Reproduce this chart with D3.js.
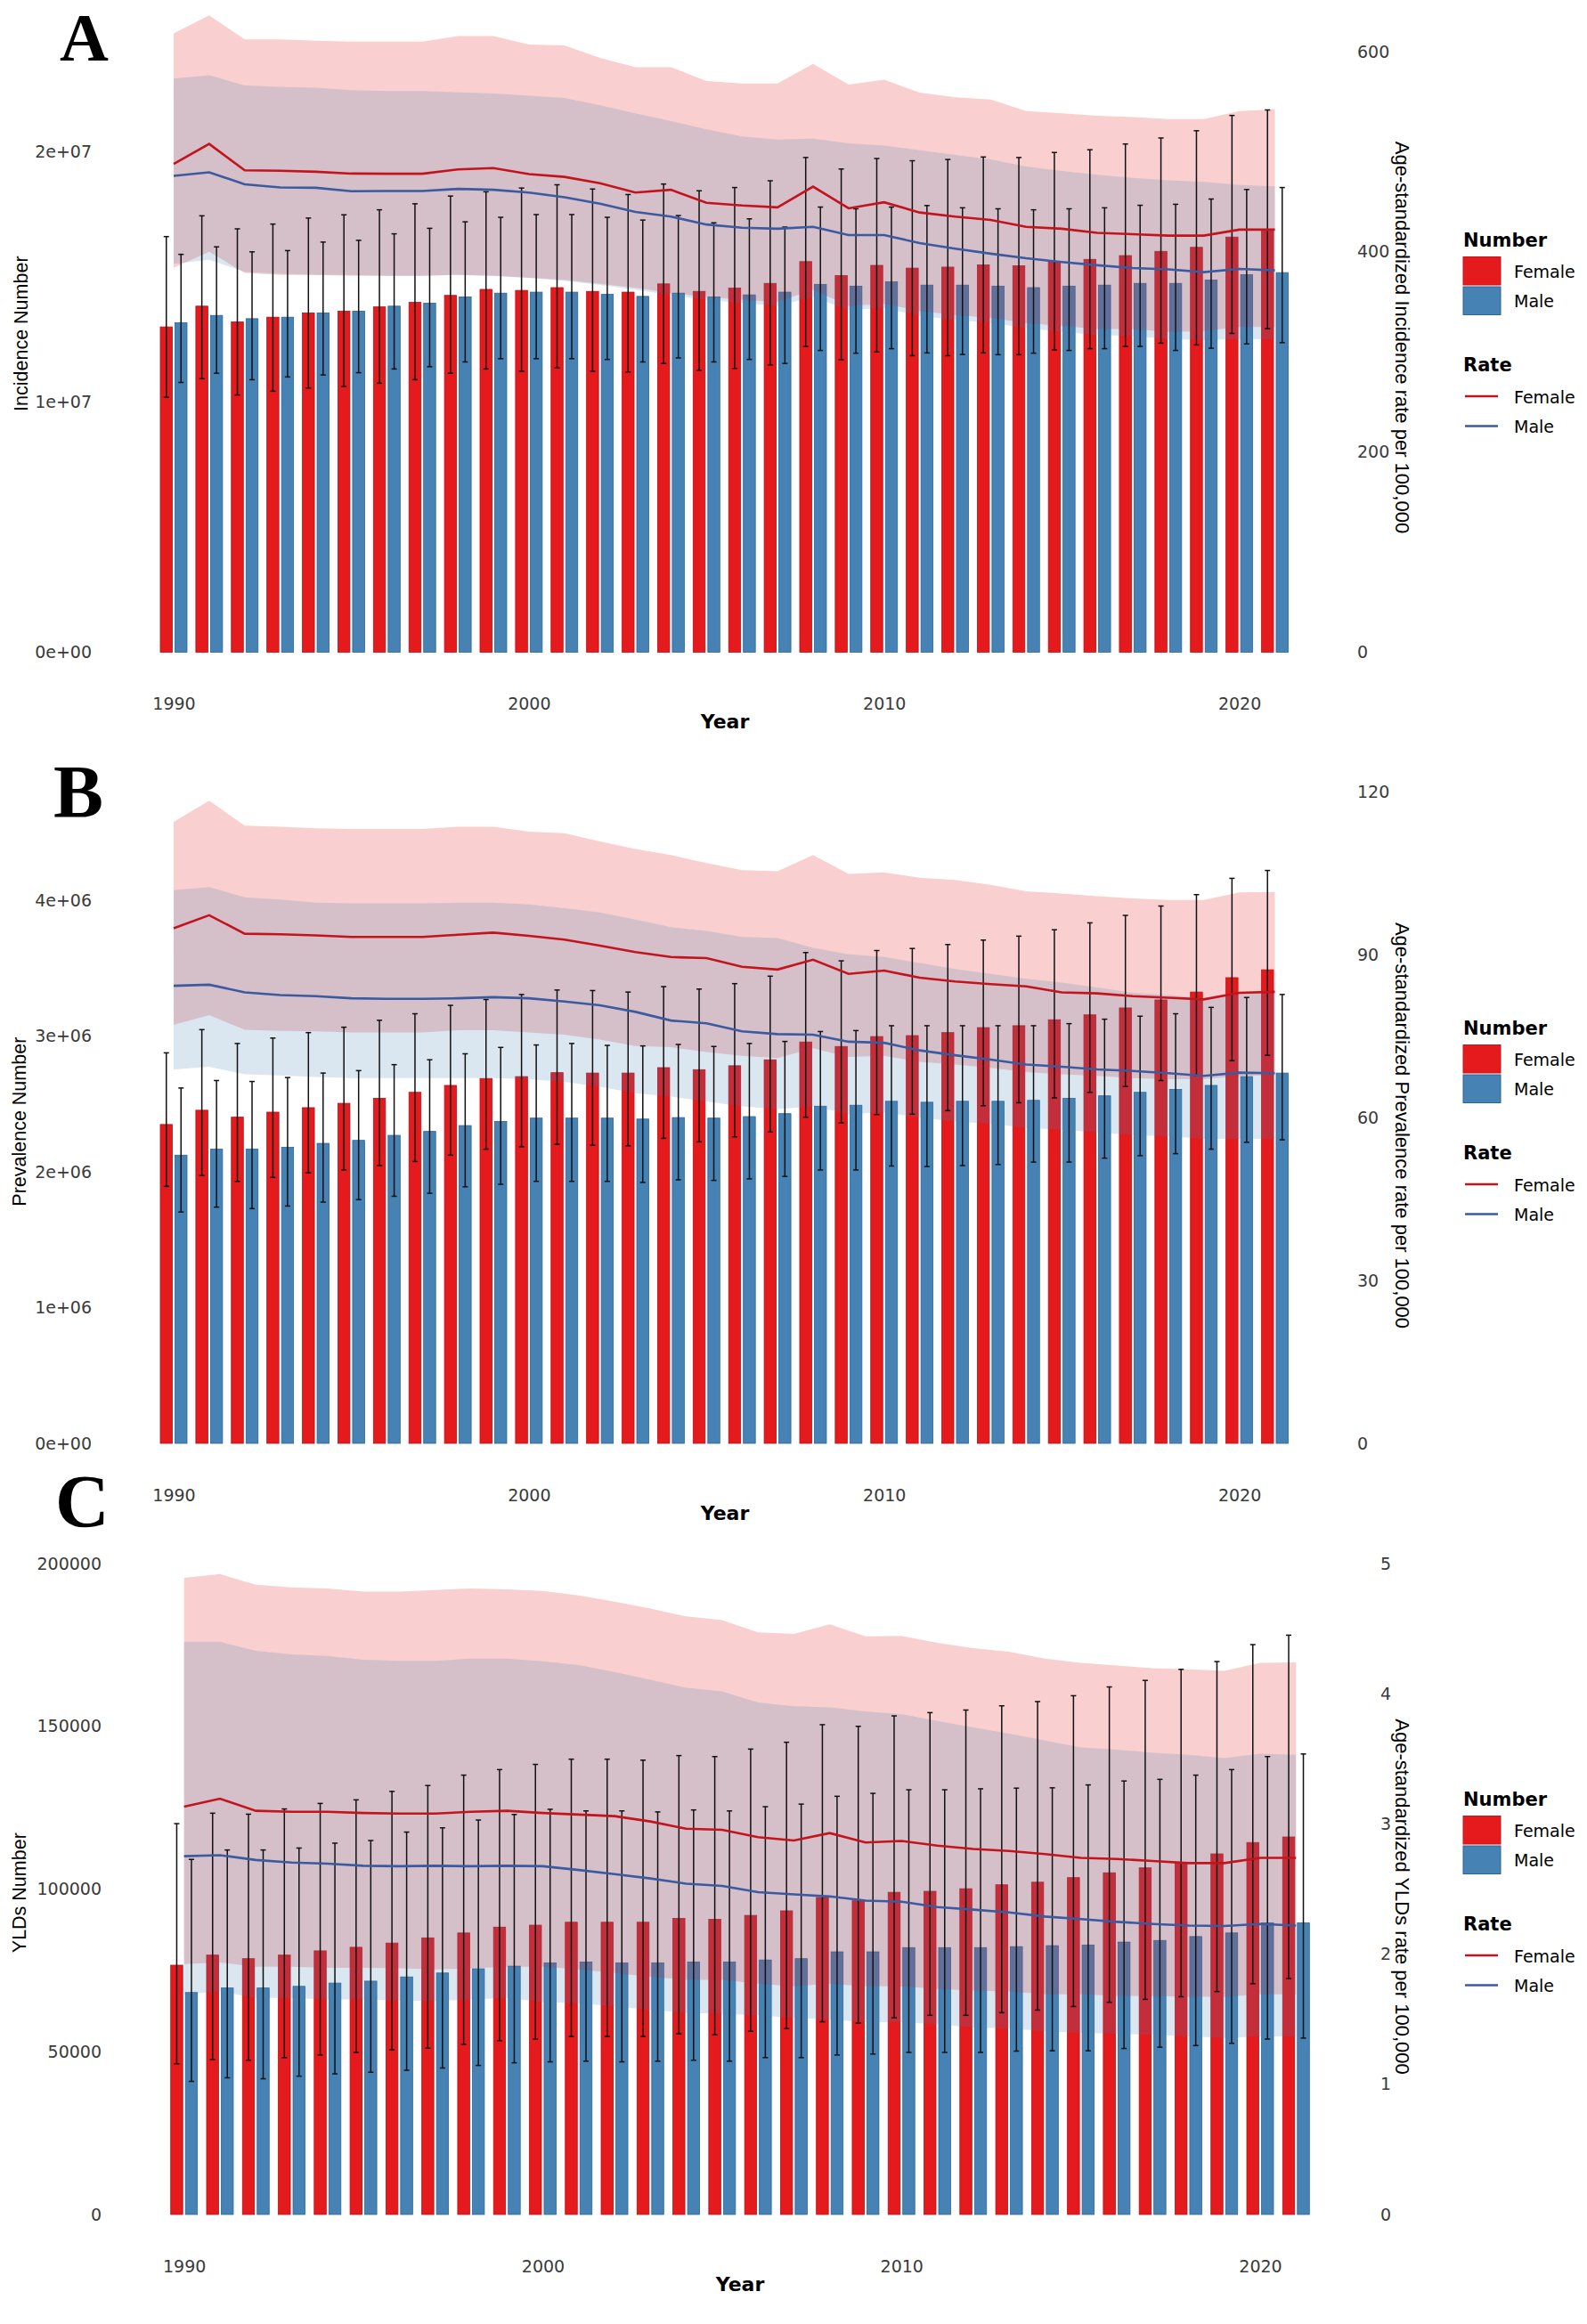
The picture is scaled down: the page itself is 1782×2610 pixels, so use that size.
<!DOCTYPE html>
<html lang="en">
<head>
    <meta charset="utf-8">
    <title>burden_by_sex</title>
    <script type="text/javascript" src="https://d3js.org/d3.v7.min.js"></script>
    <style type="text/css">
        body { margin: 0; background: #fff; }
        .tick text { font-family: "DejaVu Sans", sans-serif; font-size: 19px; fill: #3a3a3a; }
    </style>
</head>
<body>

<script type="text/javascript">

    // Years on the x axis
    var years = [1990, 1991, 1992, 1993, 1994, 1995, 1996, 1997, 1998, 1999,
                 2000, 2001, 2002, 2003, 2004, 2005, 2006, 2007, 2008, 2009,
                 2010, 2011, 2012, 2013, 2014, 2015, 2016, 2017, 2018, 2019,
                 2020, 2021];

    // ---- Panel A: incidence (numbers in millions, rate per 100,000)
    var incFemaleNum = [13.00, 13.83, 13.20, 13.39, 13.56, 13.63, 13.80, 13.98, 14.26, 14.50, 14.46, 14.57, 14.42, 14.39, 14.72, 14.42, 14.55, 14.74, 15.61, 15.05, 15.46, 15.35, 15.39, 15.48, 15.44, 15.61, 15.70, 15.85, 16.02, 16.18, 16.59, 16.87];
    var incMaleNum   = [13.17, 13.46, 13.33, 13.39, 13.56, 13.63, 13.83, 13.95, 14.20, 14.35, 14.39, 14.39, 14.30, 14.22, 14.35, 14.20, 14.28, 14.39, 14.70, 14.63, 14.80, 14.67, 14.67, 14.63, 14.57, 14.63, 14.67, 14.74, 14.74, 14.87, 15.09, 15.17];
    var incFemaleLo  = [10.19, 10.93, 10.28, 10.43, 10.56, 10.62, 10.75, 10.89, 11.15, 11.32, 11.23, 11.36, 11.23, 11.20, 11.54, 11.27, 11.34, 11.48, 12.22, 11.69, 12.00, 11.85, 11.85, 11.96, 11.89, 12.08, 12.13, 12.22, 12.35, 12.28, 12.74, 12.93];
    var incFemaleHi  = [16.61, 17.44, 16.92, 17.11, 17.35, 17.48, 17.68, 17.92, 18.23, 18.40, 18.55, 18.68, 18.51, 18.29, 18.71, 18.44, 18.57, 18.84, 19.77, 19.31, 19.73, 19.64, 19.69, 19.79, 19.77, 19.97, 20.08, 20.31, 20.55, 20.84, 21.45, 21.67];
    var incMaleLo    = [10.78, 11.15, 10.89, 11.00, 11.08, 11.17, 11.32, 11.41, 11.60, 11.73, 11.73, 11.73, 11.70, 11.60, 11.76, 11.60, 11.70, 11.54, 12.06, 11.95, 12.13, 11.96, 11.90, 11.89, 11.95, 12.06, 12.13, 12.22, 12.06, 12.15, 12.32, 12.37];
    var incMaleHi    = [15.90, 16.20, 16.00, 16.05, 16.39, 16.46, 16.72, 16.94, 17.20, 17.38, 17.49, 17.49, 17.38, 17.27, 17.45, 17.16, 17.32, 16.99, 17.79, 17.72, 17.79, 17.85, 17.76, 17.72, 17.68, 17.72, 17.76, 17.86, 17.90, 18.11, 18.49, 18.57];
    var incFemaleRate   = [487.9, 507.8, 481.4, 481.0, 480.0, 478.2, 478.0, 478.0, 482.3, 483.7, 477.7, 474.9, 468.5, 459.2, 462.0, 449.0, 446.3, 444.4, 465.2, 443.5, 449.5, 439.3, 435.2, 431.9, 425.0, 423.1, 419.0, 417.6, 416.2, 416.2, 422.2, 422.2];
    var incMaleRate     = [475.9, 479.5, 467.5, 464.3, 464.0, 460.6, 460.8, 460.8, 462.9, 462.0, 459.2, 454.6, 448.1, 439.8, 435.2, 427.3, 424.1, 423.1, 425.0, 416.7, 416.7, 408.8, 403.2, 398.2, 393.6, 389.9, 386.6, 383.8, 382.5, 379.7, 383.0, 381.5];
    var incFemaleRateLo = [384, 400, 379, 377, 377, 376, 376, 376, 377, 376, 374, 372, 368, 364, 359, 355, 352, 350, 362, 346, 348, 341, 337, 334, 329, 326, 323, 323, 320, 321, 325, 325];
    var incFemaleRateHi = [618.2, 636.2, 612.2, 612.2, 611.0, 610.0, 609.9, 609.9, 615.5, 615.5, 607.2, 606.2, 593.7, 584.5, 584.5, 570.6, 568.3, 568.3, 587.7, 567.0, 572.0, 559.0, 554.4, 552.1, 540.6, 538.3, 536.0, 534.6, 532.7, 532.7, 540.6, 542.4];
    var incMaleRateLo   = [388, 392, 380, 378, 377, 377, 376, 376, 377, 376, 374, 371, 367, 362, 357, 352, 349, 346, 355, 342, 344, 336, 332, 329, 324, 320, 317, 316, 313, 312, 313, 313];
    var incMaleRateHi   = [573.1, 576.4, 566.2, 564.8, 563.9, 561.6, 560.7, 560.7, 559.3, 558.3, 556.0, 553.7, 546.3, 538.5, 530.6, 522.3, 515.3, 512.1, 513.0, 508.4, 506.1, 501.5, 496.9, 492.3, 485.3, 480.7, 477.0, 473.8, 471.4, 470.0, 466.8, 465.4];

    // ---- Panel B: prevalence (numbers in millions, rate per 100,000)
    var prevFemaleNum = [2.350, 2.455, 2.404, 2.441, 2.474, 2.506, 2.543, 2.587, 2.638, 2.689, 2.703, 2.732, 2.729, 2.729, 2.769, 2.754, 2.783, 2.827, 2.958, 2.925, 2.998, 3.005, 3.027, 3.064, 3.078, 3.122, 3.158, 3.209, 3.268, 3.326, 3.432, 3.490];
    var prevMaleNum   = [2.124, 2.168, 2.168, 2.182, 2.211, 2.233, 2.270, 2.299, 2.342, 2.372, 2.397, 2.397, 2.397, 2.390, 2.401, 2.397, 2.408, 2.430, 2.485, 2.492, 2.521, 2.514, 2.521, 2.521, 2.528, 2.543, 2.561, 2.587, 2.608, 2.638, 2.703, 2.729];
    var prevFemaleLo  = [1.894, 1.974, 1.931, 1.960, 1.993, 2.015, 2.047, 2.077, 2.124, 2.168, 2.186, 2.204, 2.197, 2.193, 2.248, 2.222, 2.259, 2.295, 2.404, 2.361, 2.423, 2.426, 2.452, 2.488, 2.510, 2.546, 2.587, 2.630, 2.674, 2.710, 2.820, 2.860];
    var prevFemaleHi  = [2.878, 3.049, 2.947, 2.987, 3.027, 3.067, 3.118, 3.166, 3.228, 3.271, 3.308, 3.341, 3.337, 3.326, 3.366, 3.348, 3.388, 3.443, 3.617, 3.556, 3.632, 3.647, 3.676, 3.709, 3.738, 3.785, 3.836, 3.891, 3.960, 4.044, 4.164, 4.222];
    var prevMaleLo    = [1.705, 1.741, 1.730, 1.749, 1.778, 1.796, 1.821, 1.843, 1.891, 1.909, 1.931, 1.931, 1.931, 1.923, 1.942, 1.938, 1.949, 1.967, 2.015, 2.015, 2.044, 2.040, 2.047, 2.055, 2.073, 2.073, 2.102, 2.120, 2.135, 2.168, 2.219, 2.237];
    var prevMaleHi    = [2.619, 2.674, 2.667, 2.696, 2.729, 2.747, 2.791, 2.827, 2.871, 2.918, 2.936, 2.947, 2.933, 2.929, 2.940, 2.925, 2.947, 2.962, 3.035, 3.042, 3.078, 3.078, 3.078, 3.078, 3.078, 3.093, 3.126, 3.148, 3.166, 3.213, 3.286, 3.308];
    var prevFemaleRate   = [94.9, 97.3, 93.9, 93.8, 93.6, 93.3, 93.3, 93.3, 93.7, 94.1, 93.5, 92.8, 91.7, 90.5, 89.6, 89.4, 87.8, 87.3, 89.1, 86.5, 87.1, 85.8, 85.1, 84.6, 84.2, 83.1, 82.9, 82.4, 82.1, 81.8, 83.0, 83.2];
    var prevMaleRate     = [84.3, 84.5, 83.1, 82.6, 82.4, 82.0, 81.9, 81.9, 82.0, 82.2, 82.0, 81.4, 80.7, 79.5, 77.9, 77.4, 75.9, 75.4, 75.3, 74.0, 73.8, 72.4, 71.5, 70.7, 69.8, 69.4, 68.9, 68.6, 68.2, 67.7, 68.3, 68.2];
    var prevFemaleRateLo = [77.1, 78.9, 76.2, 76.0, 75.9, 75.7, 75.7, 75.7, 76.1, 76.1, 75.7, 75.3, 74.4, 73.2, 73.0, 72.1, 71.4, 71.0, 72.8, 71.2, 71.4, 70.3, 69.8, 69.2, 68.4, 68.0, 67.7, 67.3, 67.1, 67.1, 67.7, 67.8];
    var prevFemaleRateHi = [114.5, 118.4, 113.8, 113.6, 113.3, 113.2, 113.2, 113.2, 113.6, 113.6, 112.7, 112.4, 110.9, 109.5, 108.4, 106.9, 105.6, 105.4, 108.4, 104.9, 105.2, 104.2, 103.8, 102.9, 101.7, 101.3, 100.8, 100.4, 100.1, 100.1, 101.5, 101.6];
    var prevMaleRateLo   = [68.9, 69.4, 68.0, 67.8, 67.5, 67.3, 67.3, 67.3, 67.3, 67.3, 67.1, 66.6, 65.7, 64.5, 63.9, 63.0, 62.1, 61.6, 62.1, 60.7, 61.0, 60.0, 59.3, 58.9, 58.1, 57.8, 57.3, 56.8, 56.6, 56.1, 56.1, 56.1];
    var prevMaleRateHi   = [101.9, 102.5, 100.6, 100.2, 99.6, 99.5, 99.5, 99.5, 99.6, 99.6, 99.3, 98.6, 97.8, 96.5, 95.1, 94.4, 93.3, 93.1, 91.3, 90.1, 89.6, 88.5, 87.4, 86.5, 85.6, 84.9, 84.0, 83.0, 82.6, 82.1, 83.0, 82.9];

    // ---- Panel C: YLDs (numbers in thousands, rate per 100,000)
    var yldFemaleNum = [76.6, 79.7, 78.6, 79.7, 81.0, 82.1, 83.4, 85.0, 86.5, 88.3, 88.9, 89.8, 89.8, 89.8, 91.0, 90.7, 91.9, 93.3, 97.4, 96.4, 99.0, 99.3, 100.1, 101.3, 102.1, 103.5, 105.0, 106.5, 107.9, 110.8, 114.3, 116.0];
    var yldMaleNum   = [68.2, 69.6, 69.6, 70.1, 71.1, 71.7, 73.0, 74.2, 75.5, 76.3, 77.3, 77.6, 77.3, 77.3, 77.6, 77.6, 78.2, 78.6, 80.7, 80.7, 82.0, 82.0, 82.0, 82.3, 82.6, 82.8, 83.7, 84.2, 85.4, 86.5, 89.6, 89.6];
    var yldFemaleLo  = [46.3, 47.6, 47.4, 48.2, 49.0, 49.8, 50.6, 51.1, 52.3, 53.4, 53.9, 54.7, 54.7, 54.7, 55.5, 55.2, 56.3, 57.1, 59.2, 58.8, 60.4, 61.2, 61.2, 62.0, 62.8, 63.9, 65.2, 66.1, 66.9, 68.5, 70.9, 72.5];
    var yldFemaleHi  = [120.1, 123.3, 123.0, 124.6, 126.3, 127.4, 130.0, 131.8, 135.0, 136.7, 138.3, 139.9, 139.9, 139.6, 141.0, 140.7, 143.0, 145.1, 150.5, 150.0, 153.2, 154.2, 155.0, 156.3, 157.6, 159.4, 162.1, 164.1, 167.5, 169.9, 175.1, 178.0];
    var yldMaleLo    = [40.9, 42.0, 41.7, 42.5, 43.2, 43.7, 44.3, 45.0, 45.8, 46.6, 46.9, 47.1, 46.9, 47.1, 47.4, 47.1, 48.2, 48.2, 49.0, 49.3, 49.8, 49.8, 49.8, 50.2, 50.3, 50.3, 51.0, 51.4, 51.9, 52.6, 53.9, 54.2];
    var yldMaleHi    = [109.1, 112.0, 112.0, 112.6, 114.1, 114.9, 117.5, 118.8, 121.2, 122.9, 124.5, 124.0, 124.0, 123.7, 124.3, 124.0, 125.3, 126.1, 128.5, 129.4, 130.5, 130.5, 130.8, 131.0, 131.1, 132.0, 133.2, 133.7, 135.0, 136.7, 140.7, 141.5];
    var yldFemaleRate   = [3.133, 3.194, 3.101, 3.093, 3.093, 3.084, 3.080, 3.080, 3.093, 3.101, 3.084, 3.072, 3.060, 3.019, 2.963, 2.955, 2.898, 2.873, 2.930, 2.857, 2.869, 2.833, 2.808, 2.792, 2.768, 2.739, 2.731, 2.715, 2.699, 2.699, 2.739, 2.739];
    var yldMaleRate     = [2.752, 2.760, 2.723, 2.703, 2.695, 2.679, 2.675, 2.679, 2.675, 2.679, 2.675, 2.646, 2.614, 2.581, 2.541, 2.524, 2.476, 2.459, 2.443, 2.411, 2.403, 2.362, 2.342, 2.321, 2.289, 2.269, 2.248, 2.232, 2.220, 2.216, 2.232, 2.220];
    var yldFemaleRateLo = [1.924, 1.936, 1.903, 1.903, 1.895, 1.895, 1.891, 1.883, 1.891, 1.903, 1.903, 1.883, 1.855, 1.826, 1.802, 1.802, 1.773, 1.753, 1.773, 1.753, 1.753, 1.733, 1.721, 1.713, 1.692, 1.692, 1.680, 1.680, 1.672, 1.672, 1.692, 1.692];
    var yldFemaleRateHi = [4.890, 4.919, 4.838, 4.817, 4.809, 4.785, 4.785, 4.797, 4.809, 4.801, 4.789, 4.756, 4.708, 4.655, 4.594, 4.566, 4.472, 4.460, 4.533, 4.440, 4.444, 4.391, 4.351, 4.322, 4.269, 4.237, 4.217, 4.196, 4.188, 4.176, 4.237, 4.241];
    var yldMaleRateLo   = [1.692, 1.713, 1.664, 1.664, 1.652, 1.652, 1.644, 1.640, 1.652, 1.664, 1.631, 1.623, 1.599, 1.571, 1.550, 1.542, 1.530, 1.510, 1.498, 1.477, 1.477, 1.461, 1.437, 1.429, 1.408, 1.396, 1.388, 1.380, 1.368, 1.356, 1.368, 1.368];
    var yldMaleRateHi   = [4.399, 4.399, 4.330, 4.302, 4.290, 4.261, 4.253, 4.253, 4.269, 4.269, 4.249, 4.221, 4.168, 4.107, 4.046, 4.018, 3.933, 3.904, 3.896, 3.864, 3.843, 3.791, 3.742, 3.693, 3.640, 3.588, 3.571, 3.547, 3.531, 3.506, 3.539, 3.531];

    // Tick values
    var incLeftTicks = [0, 10, 20];
    var incRightTicks = [0, 200, 400, 600];
    var prevLeftTicks = [0, 1, 2, 3, 4];
    var prevRightTicks = [0, 30, 60, 90, 120];
    var yldLeftTicks = [0, 50, 100, 150, 200];
    var yldRightTicks = [0, 1, 2, 3, 4, 5];
    var xTicks = [1990, 2000, 2010, 2020];

    var femaleBar = "#e41a1c", maleBar = "#4682b4";
    var femaleLine = "#c3141e", maleLine = "#3b5a9f";

    // ggplot style scientific labels, e.g. 2e+07
    function sci(v) {
        if (v === 0) return "0e+00";
        var e = Math.floor(Math.log10(v));
        var m = Math.round(v / Math.pow(10, e));
        return m + "e+" + (e < 10 ? "0" + e : e);
    }

    var svg = d3.select("body")
        .append("svg")
        .attr("width", 1782)
        .attr("height", 2610)
        .style("display", "block");

    var panels = [
        {
            label: "A", labelX: 67, labelY: 68, labelSize: 76, off: 0,
            xRange: [195, 1391.6], base: 732.5, top: 58, numMax: 24, rateMax: 600,
            leftX: 106, rightX: 1521, yearX: 814,
            leftTicks: incLeftTicks, rightTicks: incRightTicks,
            leftFmt: function (v) { return sci(v * 1e6); },
            leftTitle: "Incidence Number", leftTitleX: 31,
            rightTitle: "Age-standardized Incidence rate per 100,000",
            fNum: incFemaleNum, mNum: incMaleNum, fLo: incFemaleLo, fHi: incFemaleHi, mLo: incMaleLo, mHi: incMaleHi,
            fRate: incFemaleRate, mRate: incMaleRate, fRLo: incFemaleRateLo, fRHi: incFemaleRateHi, mRLo: incMaleRateLo, mRHi: incMaleRateHi
        },
        {
            label: "B", labelX: 60, labelY: 918, labelSize: 84, off: 885,
            xRange: [195, 1391.6], base: 1621, top: 889.5, numMax: 4.8, rateMax: 120,
            leftX: 106, rightX: 1521, yearX: 814,
            leftTicks: prevLeftTicks, rightTicks: prevRightTicks,
            leftFmt: function (v) { return sci(v * 1e6); },
            leftTitle: "Prevalence Number", leftTitleX: 29,
            rightTitle: "Age-standardized Prevalence rate per 100,000",
            fNum: prevFemaleNum, mNum: prevMaleNum, fLo: prevFemaleLo, fHi: prevFemaleHi, mLo: prevMaleLo, mHi: prevMaleHi,
            fRate: prevFemaleRate, mRate: prevMaleRate, fRLo: prevFemaleRateLo, fRHi: prevFemaleRateHi, mRLo: prevMaleRateLo, mRHi: prevMaleRateHi
        },
        {
            label: "C", labelX: 62, labelY: 1715, labelSize: 84, off: 1751,
            xRange: [206.7, 1415], base: 2487, top: 1756, numMax: 200, rateMax: 5,
            leftX: 117, rightX: 1547, yearX: 831,
            leftTicks: yldLeftTicks, rightTicks: yldRightTicks,
            leftFmt: function (v) { return String(v * 1000); },
            leftTitle: "YLDs Number", leftTitleX: 28.7,
            rightTitle: "Age-standardized YLDs rate per 100,000",
            fNum: yldFemaleNum, mNum: yldMaleNum, fLo: yldFemaleLo, fHi: yldFemaleHi, mLo: yldMaleLo, mHi: yldMaleHi,
            fRate: yldFemaleRate, mRate: yldMaleRate, fRLo: yldFemaleRateLo, fRHi: yldFemaleRateHi, mRLo: yldMaleRateLo, mRHi: yldMaleRateHi
        }
    ];

    panels.forEach(drawPanel);

    function drawPanel(p) {
        var g = svg.append("g");

        var x = d3.scaleLinear().domain([1990, 2020]).range(p.xRange);
        var yNum = d3.scaleLinear().domain([0, p.numMax]).range([p.base, p.top]);
        var yRate = d3.scaleLinear().domain([0, p.rateMax]).range([p.base, p.top]);

        var rows = years.map(function (yr, i) {
            return {
                year: yr,
                fNum: p.fNum[i], mNum: p.mNum[i], fLo: p.fLo[i], fHi: p.fHi[i], mLo: p.mLo[i], mHi: p.mHi[i],
                fRate: p.fRate[i], mRate: p.mRate[i], fRLo: p.fRLo[i], fRHi: p.fRHi[i], mRLo: p.mRLo[i], mRHi: p.mRHi[i]
            };
        });

        var barW = 13.5, gap = 1.5;

        //Bars, female left of the year and male right
        g.selectAll("rect.f")
            .data(rows)
            .enter()
            .append("rect")
            .attr("class", "f")
            .attr("x", d => x(d.year) - gap - barW)
            .attr("y", d => yNum(d.fNum))
            .attr("width", barW)
            .attr("height", d => p.base - yNum(d.fNum))
            .attr("fill", femaleBar)
            .attr("stroke", "#b8121a")
            .attr("stroke-width", 0.8);
        g.selectAll("rect.m")
            .data(rows)
            .enter()
            .append("rect")
            .attr("class", "m")
            .attr("x", d => x(d.year) + gap)
            .attr("y", d => yNum(d.mNum))
            .attr("width", barW)
            .attr("height", d => p.base - yNum(d.mNum))
            .attr("fill", maleBar)
            .attr("stroke", "#2e6597")
            .attr("stroke-width", 0.8);

        //Uncertainty ribbons of the rates, drawn over the bars
        var fArea = d3.area().x(d => x(d.year)).y0(d => yRate(d.fRLo)).y1(d => yRate(d.fRHi));
        var mArea = d3.area().x(d => x(d.year)).y0(d => yRate(d.mRLo)).y1(d => yRate(d.mRHi));
        g.append("path")
            .datum(rows)
            .attr("d", fArea)
            .attr("fill", "rgba(228, 26, 28, 0.21)");
        g.append("path")
            .datum(rows)
            .attr("d", mArea)
            .attr("fill", "rgba(70, 130, 180, 0.2)");

        //Error bars of the numbers
        var errs = [];
        rows.forEach(function (d) {
            errs.push({ cx: x(d.year) - gap - barW / 2, lo: d.fLo, hi: d.fHi });
            errs.push({ cx: x(d.year) + gap + barW / 2, lo: d.mLo, hi: d.mHi });
        });
        var eb = g.selectAll("g.err")
            .data(errs)
            .enter()
            .append("g")
            .attr("class", "err")
            .attr("stroke", "#111")
            .attr("stroke-width", 1.5);
        eb.append("line")
            .attr("x1", d => d.cx).attr("x2", d => d.cx)
            .attr("y1", d => yNum(d.lo)).attr("y2", d => yNum(d.hi));
        eb.append("line")
            .attr("x1", d => d.cx - 3).attr("x2", d => d.cx + 3)
            .attr("y1", d => yNum(d.hi)).attr("y2", d => yNum(d.hi));
        eb.append("line")
            .attr("x1", d => d.cx - 3).attr("x2", d => d.cx + 3)
            .attr("y1", d => yNum(d.lo)).attr("y2", d => yNum(d.lo));

        //Rate lines
        g.append("path")
            .datum(rows)
            .attr("d", d3.line().x(d => x(d.year)).y(d => yRate(d.fRate)))
            .attr("fill", "none")
            .attr("stroke", femaleLine)
            .attr("stroke-width", 2.6);
        g.append("path")
            .datum(rows)
            .attr("d", d3.line().x(d => x(d.year)).y(d => yRate(d.mRate)))
            .attr("fill", "none")
            .attr("stroke", maleLine)
            .attr("stroke-width", 2.6);

        //Axes, no lines, only labels
        var left = g.append("g")
            .attr("transform", "translate(" + p.leftX + ",0)")
            .call(d3.axisLeft(yNum).tickValues(p.leftTicks).tickFormat(p.leftFmt).tickSize(0).tickPadding(3));
        left.select(".domain").remove();

        var right = g.append("g")
            .attr("transform", "translate(" + p.rightX + ",0)")
            .call(d3.axisRight(yRate).tickValues(p.rightTicks).tickFormat(d3.format("d")).tickSize(0).tickPadding(3));
        right.select(".domain").remove();

        var bottom = g.append("g")
            .attr("transform", "translate(0," + (p.base + 64.5) + ")")
            .call(d3.axisBottom(x).tickValues(xTicks).tickFormat(d3.format("d")).tickSize(0));
        bottom.select(".domain").remove();
        bottom.selectAll("text").attr("y", 0).attr("dy", 0);

        //Axis titles
        g.append("text")
            .attr("x", p.yearX)
            .attr("y", p.base + 85.5)
            .attr("text-anchor", "middle")
            .style("font-family", "'DejaVu Sans', sans-serif")
            .style("font-weight", "bold")
            .style("font-size", "22px")
            .text("Year");

        var midY = 374.7 + p.off;
        g.append("text")
            .attr("transform", "translate(" + p.leftTitleX + "," + midY + ") rotate(-90)")
            .attr("text-anchor", "middle")
            .style("font-family", "'Liberation Sans', Arial, sans-serif")
            .style("font-size", "21.5px")
            .text(p.leftTitle);
        g.append("text")
            .attr("transform", "translate(1567," + (379 + p.off) + ") rotate(90)")
            .attr("text-anchor", "middle")
            .style("font-family", "'Liberation Sans', Arial, sans-serif")
            .style("font-size", "22px")
            .text(p.rightTitle);

        //Panel letter
        g.append("text")
            .attr("x", p.labelX)
            .attr("y", p.labelY)
            .style("font-family", "'Liberation Serif', 'Times New Roman', serif")
            .style("font-weight", "bold")
            .style("font-size", p.labelSize + "px")
            .text(p.label);

        //Legend
        var lg = g.append("g").attr("transform", "translate(0," + p.off + ")");
        var legText = function (sel, t, xx, yy, bold, size) {
            sel.append("text")
                .attr("x", xx).attr("y", yy)
                .style("font-family", "'DejaVu Sans', sans-serif")
                .style("font-weight", bold ? "bold" : "normal")
                .style("font-size", size + "px")
                .text(t);
        };
        legText(lg, "Number", 1643, 277, true, 21);
        lg.append("rect").attr("x", 1643).attr("y", 288.5).attr("width", 42).attr("height", 31.5)
            .attr("fill", femaleBar).attr("stroke", "#c8141a").attr("stroke-width", 1);
        lg.append("rect").attr("x", 1643).attr("y", 322).attr("width", 42).attr("height", 31.5)
            .attr("fill", maleBar).attr("stroke", "#2e6597").attr("stroke-width", 1);
        legText(lg, "Female", 1700, 311.5, false, 19);
        legText(lg, "Male", 1700, 345, false, 19);
        legText(lg, "Rate", 1643, 417, true, 21);
        lg.append("line").attr("x1", 1645).attr("x2", 1682).attr("y1", 445).attr("y2", 445)
            .attr("stroke", femaleLine).attr("stroke-width", 2.6);
        lg.append("line").attr("x1", 1645).attr("x2", 1682).attr("y1", 478.5).attr("y2", 478.5)
            .attr("stroke", maleLine).attr("stroke-width", 2.6);
        legText(lg, "Female", 1700, 452.5, false, 19);
        legText(lg, "Male", 1700, 485.5, false, 19);
    }

</script>
</body>
</html>
